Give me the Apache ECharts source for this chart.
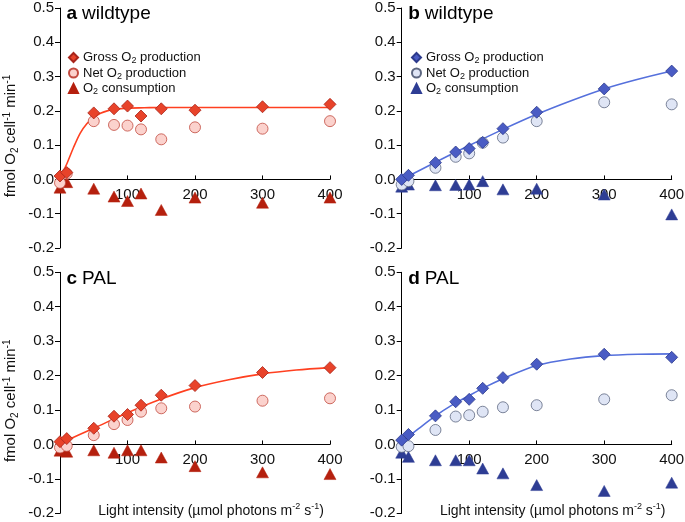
<!DOCTYPE html>
<html>
<head>
  <meta charset="utf-8">
  <title>O2 production</title>
  <script src="https://cdn.jsdelivr.net/npm/echarts@6/dist/echarts.min.js"></script>
  <style>
    html, body { margin: 0; padding: 0; background: #fff; }
    #main { width: 685px; height: 522px; }
  </style>
</head>
<body>
  <div id="main"></div>
  <script>
    // light intensities (µmol photons m-2 s-1)
    var light = [0, 10, 50, 80, 100, 120, 150, 200, 300, 400];

    // a wildtype (red)
    var aGross = [0.01, 0.02, 0.194, 0.206, 0.214, 0.185, 0.206, 0.202, 0.212, 0.219];
    var aNet   = [-0.01, 0.017, 0.17, 0.159, 0.157, 0.146, 0.117, 0.152, 0.148, 0.17];
    var aCons  = [-0.024, -0.008, -0.027, -0.05, -0.063, -0.041, -0.089, -0.053, -0.068, -0.053];
    var aFitX  = [0, 10, 20, 30, 40, 50, 60, 70, 80, 100, 125, 150, 200, 300, 400];
    var aFitY  = [0.005, 0.045, 0.093, 0.135, 0.163, 0.181, 0.193, 0.2, 0.204, 0.208, 0.209, 0.21, 0.21, 0.21, 0.21];

    // b wildtype (blue)
    var bGross = [0.0, 0.012, 0.049, 0.08, 0.09, 0.108, 0.148, 0.196, 0.264, 0.316];
    var bNet   = [-0.015, -0.005, 0.034, 0.066, 0.076, 0.107, 0.122, 0.17, 0.225, 0.219];
    var bCons  = [-0.021, -0.015, -0.017, -0.016, -0.015, -0.005, -0.029, -0.027, -0.044, -0.102];
    var bFitX  = [0, 50, 100, 150, 200, 250, 300, 350, 400];
    var bFitY  = [0.0, 0.05, 0.099, 0.146, 0.19, 0.229, 0.264, 0.292, 0.316];

    // c PAL (red)
    var cGross = [0.008, 0.017, 0.047, 0.082, 0.087, 0.114, 0.143, 0.171, 0.209, 0.223];
    var cNet   = [-0.009, -0.004, 0.027, 0.059, 0.071, 0.095, 0.105, 0.11, 0.127, 0.134];
    var cCons  = [-0.018, -0.021, -0.017, -0.024, -0.017, -0.017, -0.038, -0.063, -0.081, -0.086];
    var cFitX  = [0, 50, 100, 150, 200, 250, 300, 350, 400];
    var cFitY  = [0.003, 0.047, 0.092, 0.132, 0.165, 0.188, 0.205, 0.216, 0.223];

    // d PAL (blue)
    var dGross = [0.0125, 0.029, 0.083, 0.124, 0.131, 0.163, 0.194, 0.233, 0.262, 0.253];
    var dNet   = [-0.007, -0.005, 0.042, 0.081, 0.085, 0.095, 0.108, 0.114, 0.131, 0.143];
    var dCons  = [-0.024, -0.036, -0.046, -0.046, -0.046, -0.07, -0.084, -0.118, -0.135, -0.111];
    var dFitX  = [0, 25, 50, 75, 100, 125, 150, 200, 250, 300, 350, 400];
    var dFitY  = [0.008, 0.046, 0.083, 0.115, 0.142, 0.168, 0.191, 0.229, 0.248, 0.258, 0.262, 0.263];

    var yTicks = { min: -0.2, max: 0.5, interval: 0.1 };
    var xTicks = { min: 0, max: 400, interval: 100 };

    var FONT = "'Liberation Sans', Arial, sans-serif";
    var red = { gross: '#e8432a', grossB: '#a8241a', net: '#fbd2cd', netB: '#c24a3f', cons: '#b5200e', line: '#ff4020' };
    var blue = { gross: '#4a5cc4', grossB: '#2c3a8c', net: '#dfe5f5', netB: '#5d6780', cons: '#2e3d94', line: '#5570dc' };

    function pairs(xs, ys) {
      return xs.map(function (x, i) { return [x, ys[i]]; });
    }

    var rich = {
      t: { fontSize: 13, lineHeight: 16, fontFamily: FONT, color: '#111', fontWeight: 'normal' },
      s: { fontSize: 9, lineHeight: 9, verticalAlign: 'bottom', fontFamily: FONT, color: '#111', fontWeight: 'normal' },
      T: { fontSize: 15, lineHeight: 18, fontFamily: FONT, color: '#111', fontWeight: 'normal' },
      S: { fontSize: 10, lineHeight: 10, verticalAlign: 'bottom', fontFamily: FONT, color: '#111', fontWeight: 'normal' },
      P: { fontSize: 10, lineHeight: 10, verticalAlign: 'top', fontFamily: FONT, color: '#111', fontWeight: 'normal' },
      X: { fontSize: 14, lineHeight: 17, fontFamily: FONT, color: '#111', fontWeight: 'normal' },
      Q: { fontSize: 9, lineHeight: 9, verticalAlign: 'top', fontFamily: FONT, color: '#111', fontWeight: 'normal' }
    };

    var legendText = {
      gross: '{t|Gross O}{s|2}{t| production}',
      net: '{t|Net O}{s|2}{t| production}',
      cons: '{t|O}{s|2}{t| consumption}'
    };

    var grids = [
      { left: 60, top: 8, width: 270, height: 240 },
      { left: 401.7, top: 8, width: 270, height: 240 },
      { left: 60, top: 272.3, width: 270, height: 241 },
      { left: 401.7, top: 272.3, width: 270, height: 241 }
    ];

    var panels = [
      { id: 'a', label: 'wildtype', col: red, gross: aGross, net: aNet, cons: aCons, fx: aFitX, fy: aFitY },
      { id: 'b', label: 'wildtype', col: blue, gross: bGross, net: bNet, cons: bCons, fx: bFitX, fy: bFitY },
      { id: 'c', label: 'PAL', col: red, gross: cGross, net: cNet, cons: cCons, fx: cFitX, fy: cFitY },
      { id: 'd', label: 'PAL', col: blue, gross: dGross, net: dNet, cons: dCons, fx: dFitX, fy: dFitY }
    ];

    var xAxes = [], yAxes = [], series = [], titles = [], legends = [];

    panels.forEach(function (p, i) {
      var g = grids[i];
      // put the x axis on y = 0 (offset from the grid bottom)
      var zeroOffset = -((0 - yTicks.min) / (yTicks.max - yTicks.min)) * g.height;
      var xa = {
        type: 'value', gridIndex: i, min: xTicks.min, max: xTicks.max, interval: xTicks.interval,
        offset: zeroOffset,
        axisLine: { onZero: false, lineStyle: { color: '#000', width: 1 } },
        axisTick: { show: true, inside: true, length: 4, lineStyle: { color: '#000' } },
        axisLabel: {
          color: '#111', fontSize: 15, fontFamily: FONT, margin: 8,
          formatter: function (v) { return v === 0 ? '' : String(v); }
        },
        splitLine: { show: false }
      };
      if (i >= 2) {
        xa.name = '{X|Light intensity (µmol photons m}{Q|-2}{X| s}{Q|-1}{X|)}';
        xa.nameLocation = 'middle';
        xa.nameGap = 58;
        xa.nameTextStyle = { rich: rich, padding: [0, 0, 0, 32] };
      }
      xAxes.push(xa);

      var ya = {
        type: 'value', gridIndex: i, min: yTicks.min, max: yTicks.max, interval: yTicks.interval,
        axisLine: { show: true, lineStyle: { color: '#000', width: 1 } },
        axisTick: { show: true, length: 5, lineStyle: { color: '#000' } },
        axisLabel: {
          color: '#111', fontSize: 15, fontFamily: FONT, margin: 6,
          formatter: function (v) { return (Math.round(v * 10) / 10).toFixed(1); }
        },
        splitLine: { show: false }
      };
      if (i % 2 === 0) {
        ya.name = '{T|fmol O}{S|2}{T| cell}{P|-1}{T| min}{P|-1}';
        ya.nameLocation = 'middle';
        ya.nameRotate = 90;
        ya.nameGap = 40;
        ya.nameTextStyle = { rich: rich, padding: [0, 16, 0, 0] };
      }
      yAxes.push(ya);

      titles.push({
        text: '{b|' + p.id + '} {n|' + p.label + '}',
        left: g.left + 6.5, top: g.top - 6, padding: 0,
        textStyle: {
          fontWeight: 'normal',
          rich: {
            b: { fontSize: 19, fontWeight: 'bold', fontFamily: FONT, color: '#000', lineHeight: 24 },
            n: { fontSize: 19, fontWeight: 'normal', fontFamily: FONT, color: '#000', lineHeight: 24 }
          }
        }
      });

      var c = p.col;
      series.push({
        name: p.id + '-fit', type: 'line', xAxisIndex: i, yAxisIndex: i,
        data: pairs(p.fx, p.fy), smooth: 0.3, showSymbol: false,
        lineStyle: { color: c.line, width: 1.6 }, z: 1, silent: true
      });
      series.push({
        name: p.id + '-cons', type: 'scatter', xAxisIndex: i, yAxisIndex: i,
        data: pairs(light, p.cons), symbol: 'triangle', symbolSize: [12, 11],
        itemStyle: { color: c.cons, borderColor: c.cons, borderWidth: 0.5, opacity: 1 }, z: 3
      });
      series.push({
        name: p.id + '-net', type: 'scatter', xAxisIndex: i, yAxisIndex: i,
        data: pairs(light, p.net), symbol: 'circle', symbolSize: 11,
        itemStyle: { color: c.net, borderColor: c.netB, borderWidth: 0.8, opacity: 1 }, z: 4
      });
      series.push({
        name: p.id + '-gross', type: 'scatter', xAxisIndex: i, yAxisIndex: i,
        data: pairs(light, p.gross), symbol: 'diamond', symbolSize: 12,
        itemStyle: { color: c.gross, borderColor: c.grossB, borderWidth: 0.8, opacity: 1 }, z: 5
      });

      if (i < 2) {
        legends.push({
          orient: 'vertical',
          left: i === 0 ? 63 : 406,
          top: 46,
          itemWidth: 9, itemHeight: 9, itemGap: 1,
          selectedMode: false,
          data: [p.id + '-gross', p.id + '-net', p.id + '-cons'],
          formatter: function (name) { return legendText[name.split('-')[1]]; },
          textStyle: { rich: rich }
        });
      }
    });

    var chart = echarts.init(document.getElementById('main'), null, { renderer: 'canvas' });
    chart.setOption({
      animation: false,
      backgroundColor: '#fff',
      textStyle: { fontFamily: FONT },
      title: titles,
      legend: legends,
      grid: grids.map(function (g) {
        return { left: g.left, top: g.top, width: g.width, height: g.height, containLabel: false, outerBoundsMode: 'none' };
      }),
      xAxis: xAxes,
      yAxis: yAxes,
      series: series
    });
  </script>
</body>
</html>
